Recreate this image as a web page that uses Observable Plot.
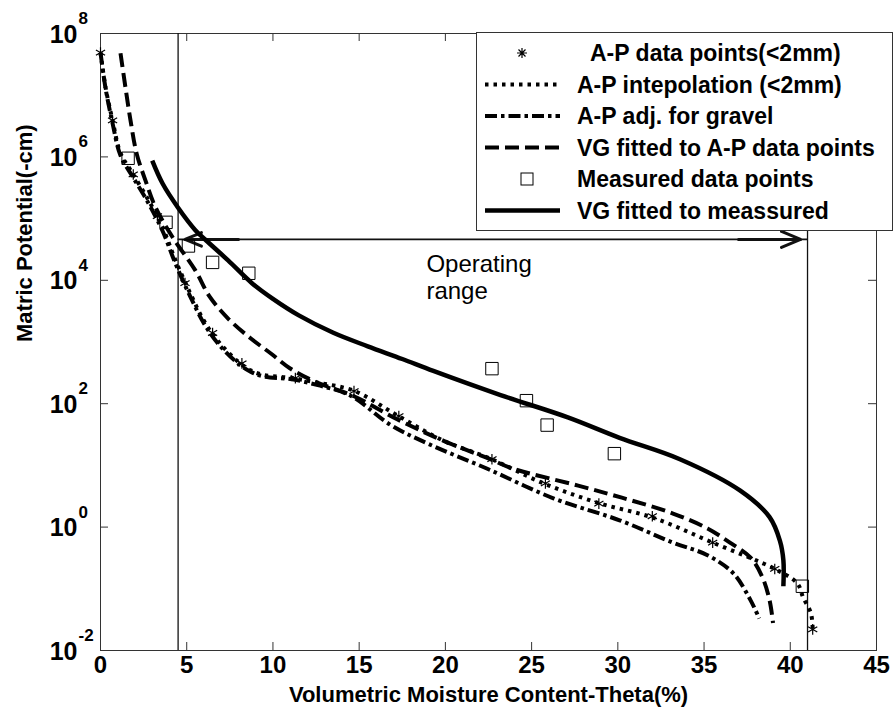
<!DOCTYPE html>
<html><head><meta charset="utf-8">
<script src="https://cdn.jsdelivr.net/npm/d3@7"></script>
<script src="https://cdn.jsdelivr.net/npm/@observablehq/plot@0.6"></script>
<style>
body{margin:0;background:#fff;}
#wrap{position:relative;width:895px;height:720px;font-family:"Liberation Sans",Arial,Helvetica,sans-serif;}
</style></head><body><div id="wrap"></div>
<script>
// ---- data ----
const xTicks = [0, 5, 10, 15, 20, 25, 30, 35, 40, 45];
const yTickExps = [-2, 0, 2, 4, 6, 8];

// A-P data points (<2mm) — stars
const apTheta = [0, 0.7, 1.9, 3.3, 4.9, 6.5, 8.2, 11.3, 14.7, 17.3, 22.7, 25.8, 28.9, 32.0, 35.5, 39.1, 41.3];
const apPsi   = [4.9e7, 3.9e6, 5.2e5, 1.1e5, 9e3, 1.4e3, 450, 260, 160, 63, 12.6, 5.1, 2.4, 1.5, 0.56, 0.21, 0.022];

// A-P interpolation (<2mm) — dotted
const interpTheta = [0, 0.3, 0.7, 1.16, 1.86, 2.8, 3.6, 4.35, 5.2, 6.0, 6.8, 7.9, 8.7, 9.5, 11.0, 12.6, 14.7, 17.2, 19.9, 22.6, 25.7, 28.8, 32.1, 35.5, 39.1, 40.4, 40.75, 41.2, 41.3];
const interpPsi   = [4.9e7, 1.3e7, 3.9e6, 1.15e6, 5.4e5, 1.95e5, 7.2e4, 2.1e4, 6.2e3, 2.2e3, 1.05e3, 500, 347, 290, 263, 219, 162, 65, 25, 12.9, 5.1, 2.5, 1.4, 0.56, 0.21, 0.123, 0.072, 0.04, 0.022];

// A-P adj. for gravel — dash-dot
const gravTheta = [0, 0.3, 0.7, 1.16, 1.86, 2.8, 3.6, 4.35, 5.2, 6.0, 6.8, 7.9, 8.7, 9.5, 11.0, 12.6, 14.5, 16.8, 19.0, 22.4, 26.3, 30.1, 33.2, 35.2, 36.7, 37.7, 38.2];
const gravPsi   = [4.9e7, 1.26e7, 3.5e6, 1.05e6, 4.8e5, 1.74e5, 6.3e4, 1.86e4, 5.5e3, 2.0e3, 955, 468, 331, 275, 251, 200, 135, 45.7, 22.4, 8.9, 2.9, 1.29, 0.56, 0.35, 0.178, 0.065, 0.033];

// VG fitted to A-P data points — dashed
const vgApTheta = [1.16, 1.45, 1.74, 2.1, 2.6, 3.2, 4.2, 5.5, 6.3, 7.4, 8.7, 9.9, 11.0, 12.5, 14.7, 17.2, 19.9, 22.6, 23.9, 27.7, 30.6, 33.2, 35.2, 36.5, 37.7, 38.4, 38.8, 39.0];
const vgApPsi   = [4.8e7, 1.32e7, 3.9e6, 1.12e6, 4.2e5, 1.5e5, 4.9e4, 1.45e4, 5.6e3, 2.4e3, 1.15e3, 645, 372, 224, 132, 56, 25, 12.6, 8.9, 4.7, 2.8, 1.66, 0.95, 0.56, 0.32, 0.15, 0.065, 0.028];

// Measured data points — squares
const measTheta = [1.6, 3.8, 5.1, 6.5, 8.6, 22.7, 24.7, 25.9, 29.8, 40.7];
const measPsi   = [9.5e5, 8.7e4, 3.6e4, 1.95e4, 1.3e4, 370, 112, 45, 15.5, 0.11];

// VG fitted to measured — solid
const vgMTheta = [3.0, 3.6, 4.5, 5.5, 6.1, 7.4, 8.8, 10.0, 11.5, 13.5, 15.5, 17.5, 19.3, 23.2, 27.1, 30.1, 33.6, 37.1, 38.8, 39.4, 39.6, 39.6];
const vgMPsi   = [8.7e5, 3.7e5, 1.5e5, 6.5e4, 4.5e4, 2.1e4, 8.9e3, 5.0e3, 2.7e3, 1.41e3, 851, 530, 340, 138, 60, 28, 12.6, 3.9, 1.45, 0.6, 0.29, 0.11];

// Operating range annotation
const opBounds = [4.5, 41];
const opPsi = 4.6e4;
const opArrowTips = [4.9, 40.6];
const opLabel = ["Operating\nrange"];
const opLabelTheta = 18.9;
const opLabelPsi = 1.13e4;

const legendLabels = ["A-P data points(<2mm)", "A-P intepolation (<2mm)", "A-P adj. for gravel", "VG fitted to A-P data points", "Measured data points", "VG fitted to meassured"];
const xTitle = "Volumetric Moisture Content-Theta(%)";
const yTitle = "Matric Potential(-cm)";

// ---- build ----
const rows = (xs, ys) => xs.map((x, i) => ({theta: x, psi: ys[i]}));
const FONT = '"Liberation Sans", Arial, Helvetica, sans-serif';
const K = "#111";

const lineOpts = {x: "theta", y: "psi", stroke: "#000", strokeWidth: 4, strokeLinecap: "butt", strokeLinejoin: "round", curve: "catmull-rom"};

const yTicks = yTickExps.map(e => 10 ** e);

const plot = Plot.plot({
  width: 895, height: 720,
  marginLeft: 100, marginRight: 19, marginTop: 33, marginBottom: 70,
  style: {fontFamily: FONT, background: "white", overflow: "visible", color: "#000"},
  x: {domain: [0, 45], axis: null},
  y: {type: "log", domain: [1e-2, 1e8], axis: null},
  marks: [
    Plot.frame({stroke: "#333", strokeWidth: 1}),
    Plot.tickX(xTicks, {x: d => d, insetTop: 609, stroke: "#333"}),
    Plot.tickX(xTicks, {x: d => d, insetBottom: 609, stroke: "#333"}),
    Plot.tickY(yTicks, {y: d => d, insetRight: 768, stroke: "#333"}),
    Plot.tickY(yTicks, {y: d => d, insetLeft: 768, stroke: "#333"}),
    Plot.text(xTicks, {x: d => d, frameAnchor: "bottom", dy: 22, text: d => String(d), fontSize: 24, fontWeight: "bold", fill: "#000"}),
    Plot.text(yTicks, {y: d => d, frameAnchor: "left", dx: -23, dy: 1, textAnchor: "end", text: () => "10", fontSize: 25, fontWeight: "bold", fill: "#000"}),
    Plot.text(yTickExps, {y: d => 10 ** d, frameAnchor: "left", dx: -22, dy: -15, textAnchor: "start", text: d => String(d), fontSize: 17, fontWeight: "bold", fill: "#000"}),
    Plot.text([xTitle], {frameAnchor: "bottom", dy: 51, text: d => d, fontSize: 22, fontWeight: "bold", fill: "#000"}),
    Plot.text([yTitle], {frameAnchor: "left", dx: -76, rotate: -90, text: d => d, fontSize: 22, fontWeight: "bold", fill: "#000"}),
    // operating range
    Plot.ruleX(opBounds, {x: d => d, stroke: K, strokeWidth: 1.3}),
    Plot.ruleY([opPsi], {y: d => d, x1: () => opBounds[0], x2: () => opBounds[1], stroke: K, strokeWidth: 1.6}),
    Plot.arrow([{a: 8, b: opArrowTips[0]}, {a: 37, b: opArrowTips[1]}], {x1: "a", x2: "b", y1: () => opPsi, y2: () => opPsi, stroke: K, strokeWidth: 3, headLength: 16, headAngle: 45}),
    Plot.text(opLabel, {x: () => opLabelTheta, y: () => opLabelPsi, text: d => d, textAnchor: "start", lineAnchor: "middle", fontSize: 24, lineHeight: 1.13, fill: "#000"}),
    // curves
    Plot.line(rows(gravTheta, gravPsi), {...lineOpts, strokeDasharray: "12,4,3.5,4"}),
    Plot.line(rows(vgApTheta, vgApPsi), {...lineOpts, strokeDasharray: "14,6"}),
    Plot.line(rows(interpTheta, interpPsi), {...lineOpts, strokeDasharray: "3.5,5"}),
    Plot.line(rows(vgMTheta, vgMPsi), {...lineOpts, strokeWidth: 4.5}),
    Plot.dot(rows(measTheta, measPsi), {x: "theta", y: "psi", symbol: "square", r: 7, stroke: "#000", strokeWidth: 1, fill: "none"}),
    Plot.dot(rows(apTheta, apPsi), {x: "theta", y: "psi", symbol: "asterisk", r: 5, stroke: "#000", strokeWidth: 1.2})
  ]
});

const wrap = document.getElementById("wrap");
wrap.appendChild(plot);

// legend box (inside axes, top-right)
const LW = 417, LH = 199;
const lg = d3.select(wrap).append("svg")
  .attr("width", LW).attr("height", LH)
  .style("position", "absolute").style("left", "476px").style("top", "32px")
  .style("font-family", FONT);
lg.append("rect").attr("x", 0.5).attr("y", 0.5).attr("width", LW - 1).attr("height", LH - 1)
  .attr("fill", "white").attr("stroke", "#333");
const styles = [
  {kind: "star"},
  {kind: "line", dash: "3.5,5", w: 4},
  {kind: "line", dash: "12,4,3.5,4", w: 4},
  {kind: "line", dash: "14,6", w: 4},
  {kind: "square"},
  {kind: "line", dash: null, w: 4.5}
];
legendLabels.forEach((label, i) => {
  const y = 21 + i * 31.5;
  const s = styles[i];
  if (s.kind === "line") {
    lg.append("line").attr("x1", 9).attr("x2", 84).attr("y1", y).attr("y2", y)
      .attr("stroke", "#000").attr("stroke-width", s.w).attr("stroke-dasharray", s.dash);
  } else if (s.kind === "star") {
    const r = 5, c = 46, k = r * 0.7;
    lg.append("path").attr("d", `M${c - r},${y}h${2 * r}M${c},${y - r}v${2 * r}M${c - k},${y - k}l${2 * k},${2 * k}M${c - k},${y + k}l${2 * k},${-2 * k}`)
      .attr("stroke", "#000").attr("stroke-width", 1.2);
  } else {
    lg.append("rect").attr("x", 45).attr("y", y - 6).attr("width", 12).attr("height", 12)
      .attr("fill", "none").attr("stroke", "#000");
  }
  lg.append("text").attr("x", i === 0 ? 114 : 101).attr("y", y).attr("dy", "0.35em")
    .attr("font-size", 23).attr("font-weight", "bold").attr("fill", "#000").text(label);
});
</script>
</body></html>
